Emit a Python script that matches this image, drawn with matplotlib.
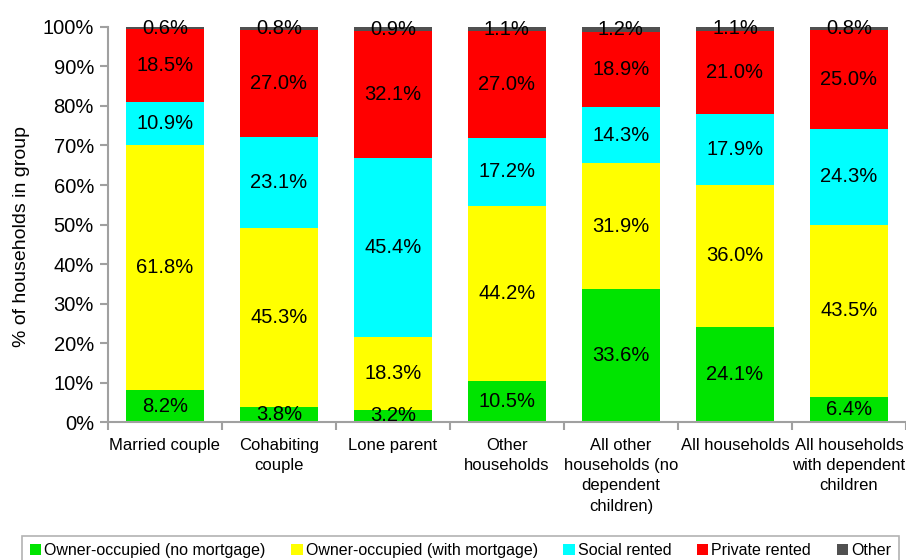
import numpy as np
import matplotlib
matplotlib.use('Agg')
import matplotlib.pyplot as plt
from matplotlib.ticker import FuncFormatter

plt.rcParams['font.family'] = ['Liberation Sans', 'DejaVu Sans']

# Data
categories = ['Married couple', 'Cohabiting\ncouple', 'Lone parent', 'Other\nhouseholds',
              'All other\nhouseholds (no\ndependent\nchildren)', 'All households',
              'All households\nwith dependent\nchildren']
series_names = ['Owner-occupied (no mortgage)', 'Owner-occupied (with mortgage)',
                'Social rented', 'Private rented', 'Other']
owner_no_mortgage = [8.2, 3.8, 3.2, 10.5, 33.6, 24.1, 6.4]
owner_mortgage = [61.8, 45.3, 18.3, 44.2, 31.9, 36.0, 43.5]
social_rented = [10.9, 23.1, 45.4, 17.2, 14.3, 17.9, 24.3]
private_rented = [18.5, 27.0, 32.1, 27.0, 18.9, 21.0, 25.0]
other = [0.6, 0.8, 0.9, 1.1, 1.2, 1.1, 0.8]
colors = ['#00E400', '#FFFF00', '#00FFFF', '#FF0000', '#505050']

values = [owner_no_mortgage, owner_mortgage, social_rented, private_rented, other]

fig = plt.figure(figsize=(9.06, 5.6), dpi=100)
ax = fig.add_axes([0.119, 0.246, 0.881, 0.706])

x = np.arange(len(categories))
bottom = np.zeros(len(categories))
handles = []
for name, vals, col in zip(series_names, values, colors):
    vals = np.array(vals)
    b = ax.bar(x, vals, width=0.684, bottom=bottom, color=col, label=name, linewidth=0)
    handles.append(b)
    for xi, v, bt in zip(x, vals, bottom):
        ax.text(xi, bt + v / 2, f'{v:.1f}%', ha='center', va='center', fontsize=14.5, color='black')
    bottom += vals

ax.set_xlim(-0.5, len(categories) - 0.5)
ax.set_ylim(0, 100)
ax.set_yticks(np.arange(0, 101, 10))
ax.yaxis.set_major_formatter(FuncFormatter(lambda v, p: f'{int(v)}%'))
ax.set_xticks(x)
ax.set_xticklabels(categories, fontsize=12, linespacing=1.45)
ax.set_xticks(np.arange(-0.5, len(categories)), minor=True)
ax.tick_params(axis='x', which='major', length=0, pad=11)
ax.tick_params(axis='x', which='minor', length=6, color='#a0a0a0', width=1.5)
ax.tick_params(axis='y', length=6, color='#a0a0a0', width=1.5, labelsize=14.5, pad=4)

for s in ['top', 'right']:
    ax.spines[s].set_visible(False)
for s in ['left', 'bottom']:
    ax.spines[s].set_color('#a0a0a0')
    ax.spines[s].set_linewidth(1.5)

ax.set_ylabel('% of households in group', fontsize=14)
ax.yaxis.set_label_coords(-0.097, 0.47)

leg = fig.legend(handles=handles, labels=series_names, loc='upper left',
                 bbox_to_anchor=(0.0155, 0.058), ncol=5, fontsize=11.5,
                 frameon=True, fancybox=False, handlelength=0.7, handleheight=0.7,
                 handletextpad=0.2, columnspacing=1.6, borderpad=0.5)
leg.get_frame().set_edgecolor('#a0a0a0')
leg.get_frame().set_linewidth(1.2)

fig.savefig('out.png', dpi=100)
